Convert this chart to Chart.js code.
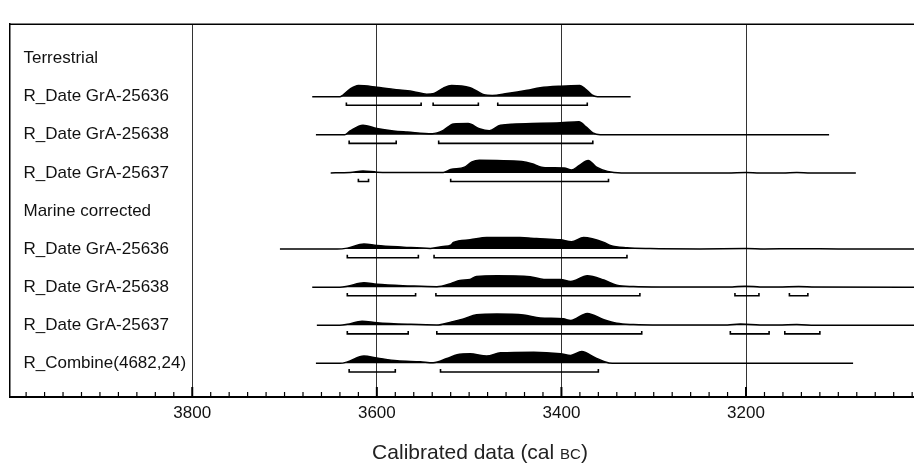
<!DOCTYPE html>
<html>
<head>
<meta charset="utf-8">
<script src="https://cdn.jsdelivr.net/npm/chart.js@4"></script>
<style>
  html, body { margin: 0; padding: 0; background: #fff; }
  canvas { display: block; }
</style>
</head>
<body>
<canvas id="chart" width="914" height="467"></canvas>
<script>
/*-------- DATA (cal BC, relative probability) -------- */
const rowLabels = [
  "Terrestrial",
  "R_Date GrA-25636",
  "R_Date GrA-25638",
  "R_Date GrA-25637",
  "Marine corrected",
  "R_Date GrA-25636",
  "R_Date GrA-25638",
  "R_Date GrA-25637",
  "R_Combine(4682,24)"
];

const tick200 = [3800, 3600, 3400, 3200];

// terrestrial GrA-25636
const t25636Years = [3670, 3640, 3637, 3629, 3620, 3600, 3575, 3560, 3546, 3538, 3528, 3519, 3499, 3492, 3484, 3475, 3459, 3437, 3423, 3401, 3380, 3374, 3367, 3361, 3325];
const t25636Prob = [0, 0, 1.5, 8, 11.7, 10, 7, 5.3, 2.7, 3.5, 9, 11.7, 9.3, 6, 2, 1.3, 3.3, 6.7, 9.3, 11, 11.7, 8, 2, 0, 0];
const t25636Ranges = [[3633, 3552], [3539, 3490], [3469, 3372]];

// terrestrial GrA-25638
const t25638Years = [3666, 3635, 3629, 3615, 3600, 3582, 3567, 3540, 3528, 3517, 3501, 3489, 3478, 3466, 3432, 3401, 3381, 3373, 3366, 3358, 3110];
const t25638Prob = [0, 0, 4, 10, 6.5, 4, 2.9, 1.2, 4.6, 11.4, 11.8, 6.4, 4.3, 10, 11.8, 12.5, 13.6, 8, 2, 0, 0];
const t25638Ranges = [[3630, 3579], [3533, 3366]];

// terrestrial GrA-25637
const t25637Years = [3650, 3629, 3615, 3600, 3567, 3528, 3520, 3505, 3497, 3489, 3470, 3443, 3432, 3420, 3397, 3389, 3381, 3371, 3362, 3350, 3335, 3220, 3200, 3185, 3160, 3145, 3130, 3081];
const t25637Prob = [0, 0.3, 2, 0.8, 0.3, 0.5, 3.5, 6, 11.5, 13.2, 12.9, 11.8, 9.5, 5.7, 5, 3, 7.5, 12.9, 6, 1.5, 0, 0, 0.5, 0, 0, 0.4, 0, 0];
const t25637Ranges = [[3620, 3609], [3520, 3349]];

// marine GrA-25636
const m25636Years = [3705, 3643, 3632, 3614, 3600, 3571, 3542, 3528, 3520, 3517, 3499, 3481, 3445, 3427, 3401, 3389, 3376, 3354, 3347, 3329, 3304, 3250, 3200, 3180, 3145, 3100, 3018];
const m25636Prob = [0, 0, 1, 5.3, 3.7, 2, 0.7, 2.7, 4, 7, 9.7, 12, 12, 11, 9.7, 7.7, 12, 7, 3.7, 1.3, 0.5, 0.2, 0.6, 0.2, 0.4, 0.1, 0];
const m25636Ranges = [[3632, 3555], [3538, 3329]];

// marine GrA-25638
const m25638Years = [3670, 3640, 3632, 3614, 3600, 3564, 3535, 3520, 3510, 3499, 3492, 3470, 3434, 3419, 3401, 3390, 3372, 3354, 3340, 3322, 3293, 3240, 3215, 3201, 3185, 3165, 3143, 3125, 3018];
const m25638Prob = [0, 0, 1, 4.7, 3, 1.3, 0.5, 3.7, 7, 8, 11.3, 12, 11, 8, 8, 6, 12, 7.5, 2, 0.7, 0.2, 0.1, 0.3, 1, 0.3, 0.1, 0.7, 0.1, 0];
const m25638Ranges = [[3632, 3558], [3536, 3315], [3212, 3186], [3153, 3133]];

// marine GrA-25637
const m25637Years = [3665, 3640, 3632, 3616, 3600, 3564, 3535, 3520, 3506, 3492, 3470, 3441, 3423, 3398, 3390, 3372, 3354, 3340, 3322, 3293, 3240, 3220, 3206, 3185, 3165, 3145, 3125, 3018];
const m25637Prob = [0, 0, 1, 4.3, 2.7, 1, 0.3, 3.3, 6.7, 11, 11.7, 10.7, 7.7, 6.7, 5, 12.3, 5.7, 2, 0.7, 0.2, 0.2, 0.4, 1.3, 0.3, 0.2, 0.7, 0.1, 0];
const m25637Ranges = [[3632, 3566], [3535, 3313], [3217, 3175], [3158, 3120]];

// R_Combine
const combYears = [3666, 3640, 3632, 3614, 3600, 3578, 3553, 3539, 3524, 3513, 3499, 3481, 3466, 3430, 3401, 3390, 3378, 3363, 3354, 3345, 3084];
const combProb = [0, 0, 1.5, 7.7, 5.7, 2.7, 1.7, 0.7, 5, 9, 10, 7.7, 11, 11.7, 10, 8.3, 12.3, 5.7, 2, 0, 0];
const combRanges = [[3630, 3580], [3531, 3360]];

/*-------- BUILD DATASETS -------- */
const FONT = "'Liberation Sans', Arial, Helvetica, sans-serif";
const ROW_PX = 39.85;          // one row in pixels
const probScale = 1 / ROW_PX;  // 1 unit of prob -> 1px
const rangeOff = 9 / ROW_PX;
const hook = 3 / ROW_PX;

const rows = [
  { row: 1, years: t25636Years, prob: t25636Prob, ranges: t25636Ranges },
  { row: 2, years: t25638Years, prob: t25638Prob, ranges: t25638Ranges },
  { row: 3, years: t25637Years, prob: t25637Prob, ranges: t25637Ranges },
  { row: 5, years: m25636Years, prob: m25636Prob, ranges: m25636Ranges },
  { row: 6, years: m25638Years, prob: m25638Prob, ranges: m25638Ranges },
  { row: 7, years: m25637Years, prob: m25637Prob, ranges: m25637Ranges },
  { row: 8, years: combYears, prob: combProb, ranges: combRanges }
];

const datasets = [];
rows.forEach((r) => {
  datasets.push({
    data: r.years.map((yr, i) => ({ x: yr, y: r.row - r.prob[i] * probScale })),
    borderColor: "#000",
    backgroundColor: "#000",
    borderWidth: 1.5,
    fill: { value: r.row },
    pointRadius: 0,
    cubicInterpolationMode: "monotone"
  });
  let pts = [];
  r.ranges.forEach(([a, b]) => {
    const y = r.row + rangeOff;
    pts.push({ x: a, y: y - hook }, { x: a, y: y }, { x: b, y: y }, { x: b, y: y - hook }, { x: b, y: null });
  });
  datasets.push({
    data: pts,
    borderColor: "#000",
    borderWidth: 1.6,
    fill: false,
    pointRadius: 0,
    spanGaps: false,
    tension: 0
  });
});

/*-------- EXTRA DRAWING: frame, inner ticks, title -------- */
const oxcalDecor = {
  id: "oxcalDecor",
  afterDraw(chart) {
    const { ctx, chartArea: ca, scales } = chart;
    const xs = scales.x;
    ctx.save();
    // top frame line
    ctx.strokeStyle = "#000";
    ctx.lineWidth = 1.5;
    ctx.beginPath();
    ctx.moveTo(ca.left, ca.top);
    ctx.lineTo(ca.right, ca.top);
    ctx.stroke();
    // ticks pointing up from the axis
    xs.ticks.forEach((t) => {
      const px = xs.getPixelForValue(t.value);
      const big = t.value % 200 === 0;
      ctx.lineWidth = big ? 2 : 1.2;
      ctx.beginPath();
      ctx.moveTo(px, ca.bottom);
      ctx.lineTo(px, ca.bottom - (big ? 10 : 5));
      ctx.stroke();
    });
    // axis title with small caps BC
    ctx.fillStyle = "#222";
    ctx.textBaseline = "middle";
    ctx.textAlign = "left";
    const f1 = "21px " + FONT;
    const f2 = "15px " + FONT;
    const s1 = "Calibrated data (cal ";
    const s2 = "BC";
    const s3 = ")";
    ctx.font = f1;
    const w1 = ctx.measureText(s1).width;
    const w3 = ctx.measureText(s3).width;
    ctx.font = f2;
    const w2 = ctx.measureText(s2).width;
    let x = 480 - (w1 + w2 + w3) / 2;
    const y = 453;
    ctx.font = f1;
    ctx.fillText(s1, x, y);
    x += w1;
    ctx.font = f2;
    ctx.fillText(s2, x, y + 1.5);
    x += w2;
    ctx.font = f1;
    ctx.fillText(s3, x, y);
    ctx.restore();
  }
};

const chart = document.querySelector("#chart").getContext("2d");

new Chart(chart, {
  type: "line",
  data: { datasets: datasets },
  options: {
    responsive: false,
    animation: false,
    devicePixelRatio: 1,
    layout: { padding: { left: 9.5, top: 7, right: 0, bottom: 0 } },
    plugins: {
      legend: { display: false },
      tooltip: { enabled: false }
    },
    scales: {
      x: {
        type: "linear",
        reverse: true,
        min: 3018,
        max: 3998,
        afterFit: (s) => { s.height = 70; },
        afterBuildTicks: (s) => {
          const t = [];
          for (let v = 3020; v <= 3980; v += 20) t.push({ value: v });
          s.ticks = t;
        },
        ticks: {
          autoSkip: false,
          maxRotation: 0,
          minRotation: 0,
          padding: 6,
          color: "#111",
          font: { family: FONT, size: 17 },
          callback: (v) => (tick200.includes(v) ? String(v) : "")
        },
        grid: {
          drawTicks: false,
          lineWidth: 1,
          color: (c) => (c.tick && tick200.includes(c.tick.value) ? "#333" : "rgba(0,0,0,0)")
        },
        border: { display: true, color: "#000", width: 2 }
      },
      y: {
        type: "linear",
        reverse: true,
        min: -0.9034,
        max: 8.883,
        afterFit: (s) => { s.width = 0; },
        afterBuildTicks: (s) => {
          s.ticks = rowLabels.map((_, i) => ({ value: i }));
        },
        ticks: {
          mirror: true,
          autoSkip: false,
          padding: 14,
          color: "#111",
          font: { family: FONT, size: 17 },
          callback: (v) => rowLabels[v]
        },
        grid: { display: false },
        border: { display: true, color: "#000", width: 1.5 }
      }
    }
  },
  plugins: [oxcalDecor]
});
</script>
</body>
</html>
